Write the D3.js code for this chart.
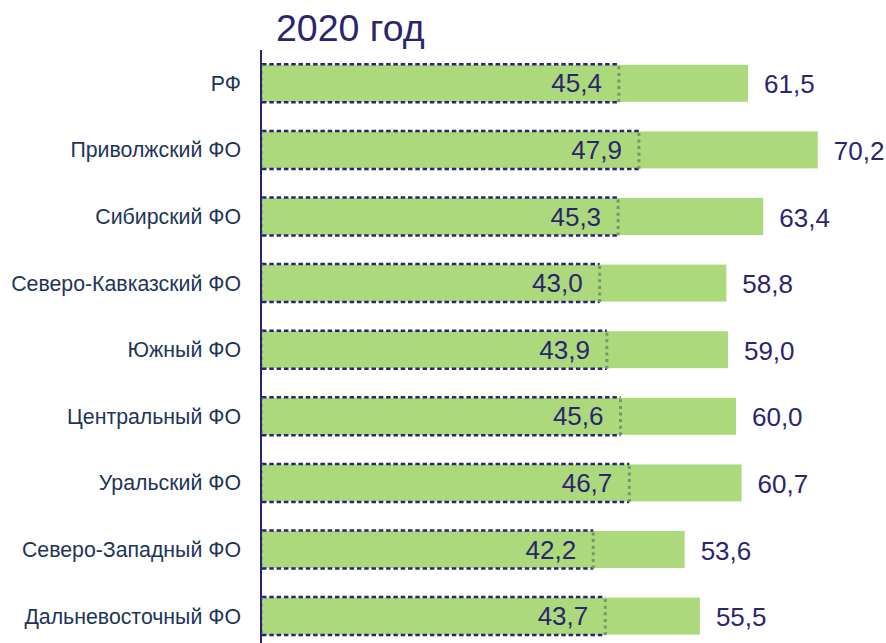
<!DOCTYPE html>
<html><head><meta charset="utf-8">
<script src="https://cdn.jsdelivr.net/npm/d3@7"></script>
<style>body{margin:0;background:#fff}svg{display:block}text{font-family:Arial,"Liberation Sans",sans-serif}</style>
</head><body><svg id="c" width="886" height="643"></svg>
<script>
const title = "2020 год";
const categories = ["РФ","Приволжский ФО","Сибирский ФО","Северо-Кавказский ФО","Южный ФО","Центральный ФО","Уральский ФО","Северо-Западный ФО","Дальневосточный ФО"];
const totalValues = [61.5,70.2,63.4,58.8,59.0,60.0,60.7,53.6,55.5];
const innerValues = [45.4,47.9,45.3,43.0,43.9,45.6,46.7,42.2,43.7];

const svg = d3.select("#c");
const axisX = 261;
const x = d3.scaleLinear().domain([0.9, 80]).range([262, 262 + 79.1*8.02]);
const y = d3.scaleBand().domain(categories).range([50, 649.4]).paddingInner(0.445).paddingOuter(0.2225);
const fmt = v => d3.format(".1f")(v).replace(".", ",");
const navy = "#2b2570";
const green = "#acd97c";

svg.append("text").attr("x", 276).attr("y", 41)
  .attr("font-size", 37.5).attr("fill", navy).text(title);

const g = svg.append("g");
const rows = g.selectAll("g.row").data(categories).join("g").attr("class","row");

rows.append("rect").attr("x", axisX).attr("y", d => y(d))
  .attr("width", (d,i) => x(totalValues[i]) - axisX).attr("height", y.bandwidth()).attr("fill", green);

rows.each(function(d,i){
  const s = d3.select(this);
  const x0 = axisX + 1, x1 = x(innerValues[i]);
  const y0 = y(d) - 0.5, y1 = y(d) + y.bandwidth() + 0.5;
  s.append("line").attr("x1", x0).attr("x2", x1).attr("y1", y0).attr("y2", y0)
    .attr("stroke", navy).attr("stroke-width", 2.5).attr("stroke-dasharray", "4.5,2.8");
  s.append("line").attr("x1", x0).attr("x2", x1).attr("y1", y1).attr("y2", y1)
    .attr("stroke", navy).attr("stroke-width", 2.5).attr("stroke-dasharray", "4.5,2.8");
  s.append("line").attr("x1", x1).attr("x2", x1).attr("y1", y0 + 2).attr("y2", y1)
    .attr("stroke", "#78956a").attr("stroke-width", 3).attr("stroke-dasharray", "3,3.6");
  s.append("line").attr("x1", x0).attr("x2", x0).attr("y1", y0).attr("y2", y1)
    .attr("stroke", "#7f9a6c").attr("stroke-width", 1.5).attr("stroke-dasharray", "3,3.6");
});

rows.append("text").attr("x", (d,i) => x(innerValues[i]) - 17)
  .attr("y", d => y(d) + y.bandwidth()/2 + 9).attr("text-anchor","end")
  .attr("font-size", 26).attr("fill", navy)
  .text((d,i) => fmt(innerValues[i]));

rows.append("text").attr("x", (d,i) => x(totalValues[i]) + 16)
  .attr("y", d => y(d) + y.bandwidth()/2 + 10)
  .attr("font-size", 26).attr("fill", navy)
  .text((d,i) => fmt(totalValues[i]));

rows.append("text").attr("x", 241).attr("y", d => y(d) + y.bandwidth()/2 + 7.5)
  .attr("text-anchor","end")
  .attr("font-size", 21.3).attr("fill", "#1d3557").text(d => d);

svg.append("line").attr("x1", axisX).attr("x2", axisX).attr("y1", 50).attr("y2", 643)
  .attr("stroke", navy).attr("stroke-width", 2);
</script></body></html>
